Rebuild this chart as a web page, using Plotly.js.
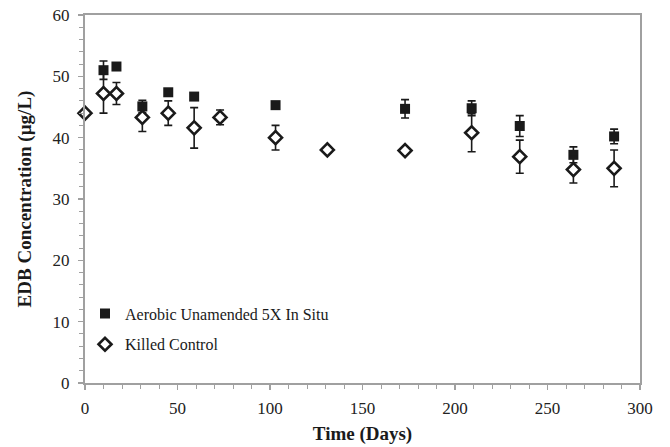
<!DOCTYPE html>
<html><head><meta charset="utf-8">
<script src="https://cdn.plot.ly/plotly-3.0.1.min.js"></script>
<style>body{margin:0;}#chart{width:670px;height:447px;}</style>
</head><body><div id="chart"></div>
<script>
const aerobicDays = [10, 17, 31, 45, 59, 103, 173, 209, 235, 264, 286];
const aerobicConc = [51.0, 51.6, 45.1, 47.4, 46.7, 45.3, 44.7, 44.8, 41.9, 37.2, 40.2];
const aerobicErr  = [1.5, 0.4, 1.0, 0.5, 0.6, 0.5, 1.5, 1.2, 1.7, 1.3, 1.2];

const killedDays = [0, 10, 17, 31, 45, 59, 73, 103, 131, 173, 209, 235, 264, 286];
const killedConc = [44.0, 47.2, 47.2, 43.3, 44.0, 41.6, 43.3, 40.0, 38.0, 37.9, 40.8, 36.9, 34.8, 35.0];
const killedErr  = [0.4, 3.2, 1.8, 2.3, 2.0, 3.3, 1.2, 2.0, 0.5, 0.4, 3.1, 2.7, 2.2, 3.0];

const errStyle = {type: 'data', visible: true, color: '#1a1a1a', thickness: 1.6, width: 4};
const serif = "'Liberation Serif', 'Times New Roman', serif";

const traces = [
  {x: aerobicDays, y: aerobicConc, name: 'Aerobic Unamended 5X In Situ', mode: 'markers', type: 'scatter',
   legendgroup: 'a', cliponaxis: false,
   error_y: Object.assign({array: aerobicErr}, errStyle),
   marker: {symbol: 'square', size: 10, color: '#1a1a1a', line: {width: 0}}},
  {x: killedDays, y: killedConc, name: 'Killed Control', mode: 'markers', type: 'scatter',
   legendgroup: 'k', cliponaxis: false,
   error_y: Object.assign({array: killedErr}, errStyle),
   marker: {symbol: 'diamond', size: 10, color: '#ffffff', line: {width: 2.6, color: '#1a1a1a'}}}
];

const axisCommon = {
  showgrid: false, zeroline: false, showline: true, linecolor: '#a0a0a0', linewidth: 2, mirror: true,
  ticks: 'outside', tickcolor: '#a0a0a0', ticklen: 5, tickwidth: 1.5,
  tickfont: {family: serif, size: 17, color: '#222222'},
  minor: {ticks: 'outside', ticklen: 4, tickcolor: '#a0a0a0', tickwidth: 1}
};

const layout = {
  width: 670, height: 447,
  margin: {l: 85, r: 30, t: 15, b: 64},
  paper_bgcolor: '#ffffff', plot_bgcolor: '#ffffff',
  showlegend: true,
  legend: {x: 0.0, y: 0.235, xanchor: 'left', yanchor: 'top', bgcolor: 'rgba(0,0,0,0)',
    traceorder: 'grouped', tracegroupgap: 7,
    font: {family: serif, size: 16, color: '#1a1a1a'}},
  xaxis: Object.assign({}, axisCommon, {range: [0, 300], dtick: 50, tick0: 0,
    ticklabelstandoff: 4,
    minor: Object.assign({}, axisCommon.minor, {dtick: 10}),
    title: {text: 'Time (Days)', standoff: 9,
      font: {family: serif, size: 19, color: '#1a1a1a', weight: 'bold'}}}),
  yaxis: Object.assign({}, axisCommon, {range: [0, 60], dtick: 10, tick0: 0,
    ticklabelstandoff: 5,
    minor: Object.assign({}, axisCommon.minor, {dtick: 2}),
    title: {text: 'EDB Concentration (µg/L)', standoff: 16,
      font: {family: serif, size: 19, color: '#1a1a1a', weight: 'bold'}}})
};

Plotly.newPlot('chart', traces, layout, {displayModeBar: false, staticPlot: true});
</script>
</body></html>
